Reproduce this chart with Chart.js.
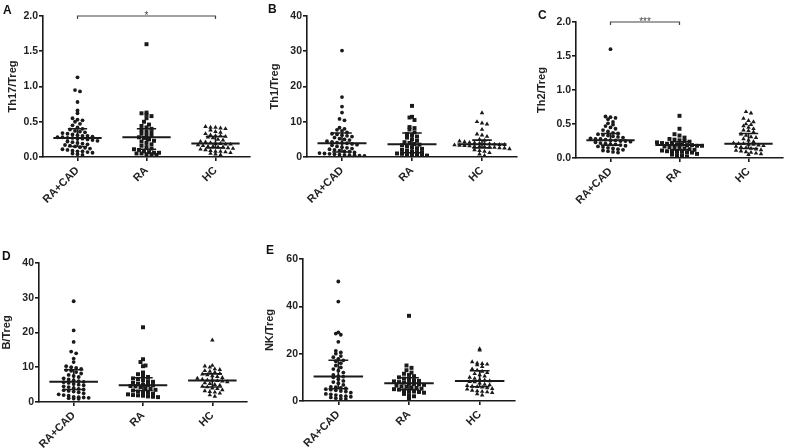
<!DOCTYPE html>
<html>
<head>
<meta charset="utf-8">
<script src="https://cdn.jsdelivr.net/npm/chart.js@4.4.0/dist/chart.umd.min.js"></script>
<style>
html, body { margin: 0; padding: 0; background: #fff; }
#fig { position: relative; width: 787px; height: 448px; overflow: hidden; font-family: "Liberation Sans", Arial, sans-serif; }
.panel { position: absolute; }
.tag { position: absolute; font-weight: bold; font-size: 12px; color: #111; line-height: 14px; }
</style>
</head>
<body>
<div id="fig">
  <div class="panel" style="left:0;top:0;width:255px;height:225px"><canvas id="chartA"></canvas></div>
  <div class="panel" style="left:255px;top:0;width:265px;height:225px"><canvas id="chartB"></canvas></div>
  <div class="panel" style="left:520px;top:0;width:267px;height:225px"><canvas id="chartC"></canvas></div>
  <div class="panel" style="left:0;top:225px;width:255px;height:223px"><canvas id="chartD"></canvas></div>
  <div class="panel" style="left:255px;top:225px;width:265px;height:223px"><canvas id="chartE"></canvas></div>
  <div class="tag" style="left:3px;top:3px">A</div>
  <div class="tag" style="left:268px;top:2px">B</div>
  <div class="tag" style="left:538px;top:8px">C</div>
  <div class="tag" style="left:2px;top:249px">D</div>
  <div class="tag" style="left:266px;top:243px">E</div>
</div>
<script>
// groups on the x axis
const groups = ['RA+CAD', 'RA', 'HC'];

// A: Th17/Treg
const th17Cad = [1.13, 0.95, 0.93, 0.78, 0.66, 0.62, 0.55, 0.53, 0.52, 0.50, 0.47, 0.45, 0.42, 0.40, 0.39, 0.37, 0.36, 0.35, 0.34, 0.33, 0.32, 0.31, 0.30, 0.30, 0.29, 0.28, 0.28, 0.27, 0.27, 0.26, 0.26, 0.25, 0.24, 0.23, 0.22, 0.21, 0.20, 0.19, 0.18, 0.17, 0.16, 0.15, 0.14, 0.13, 0.12, 0.11, 0.10, 0.09, 0.08, 0.08, 0.07, 0.06, 0.05, 0.04, 0.03];
const th17Ra = [1.60, 0.63, 0.62, 0.60, 0.58, 0.55, 0.50, 0.46, 0.44, 0.42, 0.40, 0.38, 0.36, 0.35, 0.33, 0.31, 0.30, 0.28, 0.27, 0.25, 0.23, 0.22, 0.20, 0.18, 0.16, 0.14, 0.12, 0.11, 0.10, 0.08, 0.07, 0.06, 0.06, 0.05, 0.05, 0.04, 0.04, 0.03];
const th17Hc = [0.43, 0.42, 0.42, 0.41, 0.40, 0.38, 0.36, 0.35, 0.33, 0.31, 0.30, 0.30, 0.29, 0.28, 0.27, 0.25, 0.24, 0.22, 0.21, 0.20, 0.19, 0.19, 0.18, 0.18, 0.17, 0.16, 0.15, 0.15, 0.14, 0.14, 0.13, 0.12, 0.11, 0.10, 0.09, 0.08, 0.08, 0.07, 0.06, 0.05, 0.04, 0.03];
const th17Med = [0.27, 0.28, 0.19];
const th17Q1 = [0.15, 0.11, 0.13];
const th17Q3 = [0.40, 0.40, 0.29];

// B: Th1/Treg
const th1Cad = [30.2, 17.0, 14.3, 12.6, 10.8, 10.4, 8.3, 8.0, 7.7, 7.4, 7.0, 6.6, 6.4, 6.2, 6.0, 5.8, 5.5, 5.2, 5.0, 4.8, 4.5, 4.3, 4.1, 4.0, 3.9, 3.7, 3.5, 3.3, 3.0, 2.8, 2.6, 2.4, 2.2, 2.0, 1.8, 1.6, 1.5, 1.3, 1.1, 1.0, 0.9, 0.8, 0.7, 0.6, 0.5, 0.5, 0.4, 0.3];
const th1Ra = [14.5, 11.4, 11.2, 10.5, 8.5, 8.2, 7.8, 7.0, 6.5, 6.2, 5.8, 5.5, 5.0, 4.6, 4.2, 4.0, 3.7, 3.5, 3.3, 3.0, 2.8, 2.5, 2.3, 2.0, 1.8, 1.6, 1.4, 1.2, 1.0, 0.9, 0.8, 0.7, 0.6, 0.5, 0.4];
const th1Hc = [12.5, 10.0, 9.6, 9.3, 7.8, 6.5, 6.2, 5.8, 5.0, 4.7, 4.5, 4.3, 4.1, 4.0, 3.9, 3.8, 3.7, 3.6, 3.5, 3.5, 3.4, 3.3, 3.2, 3.1, 3.0, 3.0, 2.9, 2.8, 2.7, 2.6, 2.5, 2.3, 2.0, 1.8, 1.6, 1.2, 0.8, 0.4];
const th1Med = [3.9, 3.6, 3.6];
const th1Q1 = [1.4, 1.2, 2.6];
const th1Q3 = [6.8, 6.8, 4.8];

// C: Th2/Treg
const th2Cad = [1.60, 0.61, 0.60, 0.59, 0.57, 0.53, 0.51, 0.49, 0.47, 0.45, 0.43, 0.41, 0.39, 0.37, 0.36, 0.35, 0.34, 0.33, 0.32, 0.31, 0.30, 0.29, 0.28, 0.28, 0.27, 0.26, 0.26, 0.25, 0.25, 0.24, 0.23, 0.22, 0.21, 0.20, 0.20, 0.19, 0.18, 0.17, 0.16, 0.15, 0.14, 0.13, 0.12, 0.11, 0.10, 0.09, 0.08];
const th2Ra = [0.62, 0.43, 0.35, 0.33, 0.30, 0.28, 0.27, 0.26, 0.25, 0.24, 0.23, 0.22, 0.21, 0.21, 0.20, 0.20, 0.19, 0.19, 0.18, 0.18, 0.17, 0.16, 0.15, 0.15, 0.14, 0.13, 0.12, 0.11, 0.10, 0.10, 0.09, 0.09, 0.08, 0.08, 0.06, 0.05, 0.04, 0.03, 0.02];
const th2Hc = [0.68, 0.66, 0.58, 0.55, 0.53, 0.50, 0.49, 0.47, 0.45, 0.43, 0.41, 0.40, 0.38, 0.35, 0.33, 0.31, 0.30, 0.28, 0.26, 0.24, 0.22, 0.21, 0.21, 0.20, 0.20, 0.19, 0.18, 0.17, 0.16, 0.15, 0.14, 0.13, 0.12, 0.11, 0.10, 0.09, 0.08, 0.07, 0.06, 0.05];
const th2Med = [0.26, 0.19, 0.21];
const th2Q1 = [0.19, 0.12, 0.14];
const th2Q3 = [0.36, 0.24, 0.36];

// D: B/Treg
const bCad = [29.0, 20.6, 17.3, 14.5, 14.0, 12.5, 11.5, 10.3, 10.0, 9.8, 9.5, 9.2, 9.0, 8.6, 8.2, 7.8, 7.5, 7.2, 6.8, 6.5, 6.2, 6.0, 5.8, 5.7, 5.5, 5.2, 5.0, 4.8, 4.5, 4.3, 4.0, 3.8, 3.6, 3.4, 3.2, 3.0, 2.8, 2.5, 2.2, 2.0, 1.8, 1.5, 1.4, 1.3, 1.2, 1.1, 1.0, 0.9];
const bRa = [21.5, 12.3, 11.5, 10.5, 10.3, 8.5, 8.0, 7.5, 7.2, 6.8, 6.5, 6.3, 6.0, 5.8, 5.5, 5.2, 5.0, 4.9, 4.8, 4.6, 4.5, 4.3, 4.0, 3.8, 3.5, 3.3, 3.0, 2.8, 2.6, 2.4, 2.2, 2.0, 1.9, 1.8, 1.6, 1.5, 1.4];
const bHc = [17.8, 10.5, 10.3, 10.0, 9.5, 9.3, 9.0, 8.8, 8.5, 8.2, 8.0, 7.8, 7.5, 7.3, 7.0, 6.8, 6.5, 6.3, 6.2, 6.1, 6.0, 5.8, 5.5, 5.3, 5.0, 4.8, 4.5, 4.3, 4.0, 3.8, 3.5, 3.2, 3.0, 2.8, 2.5, 2.0, 1.6];
const bMed = [5.8, 4.8, 6.2];
const bQ1 = [3.6, 3.3, 4.3];
const bQ3 = [9.3, 7.0, 8.1];

// E: NK/Treg
const nkCad = [50.5, 42.0, 29.0, 28.5, 28.0, 25.0, 21.2, 20.5, 20.0, 19.0, 18.5, 17.8, 17.2, 16.8, 16.0, 15.0, 14.2, 13.5, 12.8, 12.0, 11.0, 10.5, 10.3, 10.0, 9.2, 8.5, 8.0, 7.5, 6.8, 6.0, 5.8, 5.5, 5.3, 5.0, 4.8, 4.5, 4.2, 4.0, 3.5, 3.0, 2.8, 2.5, 2.2, 2.0, 1.8, 1.5, 1.2, 1.0, 0.8];
const nkRa = [36.0, 15.0, 14.0, 13.0, 12.0, 11.5, 11.0, 10.5, 10.0, 9.5, 9.0, 8.8, 8.5, 8.3, 8.0, 7.8, 7.5, 7.2, 7.0, 6.8, 6.5, 6.2, 6.0, 5.8, 5.5, 5.2, 5.0, 4.8, 4.5, 4.2, 4.0, 3.8, 3.5, 3.0, 2.5, 2.0, 1.0];
const nkHc = [22.0, 21.5, 16.5, 16.0, 15.8, 15.5, 15.2, 14.5, 13.5, 13.0, 12.5, 12.0, 11.5, 11.0, 10.5, 10.0, 9.5, 9.0, 8.8, 8.5, 8.2, 8.0, 7.5, 7.0, 6.8, 6.5, 6.2, 6.0, 5.8, 5.5, 5.2, 5.0, 4.5, 4.2, 4.0, 3.8, 3.5, 3.0, 2.5];
const nkMed = [10.3, 7.5, 8.5];
const nkQ1 = [5.2, 4.8, 6.0];
const nkQ3 = [17.2, 9.8, 12.8];

const ink = '#1a1a1a';
const shapes = ['circle', 'rect', 'triangle'];
const radii = [1.9, 2.8, 2.6];

Chart.defaults.font.family = '"Liberation Sans", Arial, sans-serif';
Chart.defaults.font.weight = 'bold';
Chart.defaults.color = '#222';

// median + interquartile range, and significance bracket
const summaryPlugin = {
  id: 'summary',
  afterDatasetsDraw(chart, args, opts) {
    const {ctx} = chart;
    const xs = chart.scales.x, ys = chart.scales.y;
    const cw = xs.getPixelForValue(2) - xs.getPixelForValue(1);
    ctx.save();
    ctx.strokeStyle = ink;
    for (let i = 0; i < 3; i++) {
      const cx = xs.getPixelForValue(i + 1);
      const pm = ys.getPixelForValue(opts.med[i]);
      const p1 = ys.getPixelForValue(opts.q1[i]);
      const p3 = ys.getPixelForValue(opts.q3[i]);
      ctx.lineWidth = 2;
      ctx.beginPath();
      ctx.moveTo(cx - cw * 0.35, pm); ctx.lineTo(cx + cw * 0.35, pm);
      ctx.stroke();
      ctx.lineWidth = 1.6;
      ctx.beginPath();
      ctx.moveTo(cx, p1); ctx.lineTo(cx, p3);
      ctx.moveTo(cx - cw * 0.14, p1); ctx.lineTo(cx + cw * 0.14, p1);
      ctx.moveTo(cx - cw * 0.14, p3); ctx.lineTo(cx + cw * 0.14, p3);
      ctx.stroke();
    }
    if (opts.sig) {
      const s = opts.sig;
      const xa = xs.getPixelForValue(s.from + 1), xb = xs.getPixelForValue(s.to + 1);
      const py = ys.getPixelForValue(s.y);
      ctx.lineWidth = 1.2;
      ctx.strokeStyle = '#444';
      ctx.beginPath();
      ctx.moveTo(xa, py + 3); ctx.lineTo(xa, py); ctx.lineTo(xb, py); ctx.lineTo(xb, py + 3);
      ctx.stroke();
      ctx.fillStyle = '#444';
      ctx.font = '10px "Liberation Sans", Arial, sans-serif';
      ctx.textAlign = 'center';
      ctx.textBaseline = 'bottom';
      ctx.fillText(s.label, (xa + xb) / 2, py + 5);
    }
    ctx.restore();
  }
};

// spread points of the same height side by side (dot plot layout)
function spread(chart) {
  const xs = chart.scales.x, ys = chart.scales.y;
  const unit = xs.getPixelForValue(2) - xs.getPixelForValue(1);
  const rowH = 4, gap = 5;
  chart.data.datasets.forEach((ds, i) => {
    const rows = {};
    ds.data.forEach(p => {
      const key = Math.floor((ys.bottom - ys.getPixelForValue(p.y)) / rowH);
      (rows[key] = rows[key] || []).push(p);
    });
    Object.values(rows).forEach(row => {
      const n = row.length;
      row.forEach((p, k) => {
        const slot = k - (n - 1) / 2;
        p.x = i + 1 + slot * gap / unit;
      });
    });
  });
  chart.update('none');
}

function makePanel(id, p) {
  const datasets = p.series.map((vals, i) => ({
    label: groups[i],
    data: vals.map(v => ({x: i + 1, y: v})),
    pointStyle: shapes[i],
    pointRadius: radii[i],
    pointHoverRadius: radii[i],
    backgroundColor: ink,
    borderColor: ink,
    borderWidth: 0
  }));
  const chart = new Chart(document.getElementById(id), {
    type: 'scatter',
    data: {datasets},
    options: {
      responsive: true,
      maintainAspectRatio: false,
      animation: false,
      layout: {padding: {top: p.top, right: p.right, left: 0, bottom: 0}},
      plugins: {
        legend: {display: false},
        tooltip: {enabled: false},
        summary: {med: p.med, q1: p.q1, q3: p.q3, sig: p.sig}
      },
      scales: {
        x: {
          type: 'linear',
          min: 0.5,
          max: 3.5,
          afterBuildTicks: s => { s.ticks = [1, 2, 3].map(v => ({value: v})); },
          afterFit: s => { s.height = p.xh; },
          border: {color: ink, width: 1.6},
          grid: {drawOnChartArea: false, drawTicks: true, tickLength: 4, color: ink, lineWidth: 1.6},
          ticks: {
            minRotation: 45, maxRotation: 45, padding: 3,
            font: {size: 11, weight: 'bold'}, color: '#222',
            callback: v => groups[v - 1]
          }
        },
        y: {
          min: 0,
          max: p.max,
          afterFit: s => { s.width = p.yw; },
          border: {color: ink, width: 1.6},
          grid: {drawOnChartArea: false, drawTicks: true, tickLength: 4, color: ink, lineWidth: 1.6},
          ticks: {
            stepSize: p.step, padding: 1,
            font: {size: 10.5, weight: 'bold'}, color: '#222',
            callback: v => p.dec ? v.toFixed(1) : String(v)
          },
          title: {
            display: true, text: p.title,
            font: {size: 11, weight: 'bold'}, color: '#222',
            padding: {top: p.tp, bottom: 0}
          }
        }
      }
    },
    plugins: [summaryPlugin]
  });
  spread(chart);
}

makePanel('chartA', {series: [th17Cad, th17Ra, th17Hc], med: th17Med, q1: th17Q1, q3: th17Q3,
  max: 2, step: 0.5, dec: true, title: 'Th17/Treg', top: 16, right: 5, yw: 43, xh: 68, tp: 6,
  sig: {from: 0, to: 2, y: 2.0, label: '*'}});
makePanel('chartB', {series: [th1Cad, th1Ra, th1Hc], med: th1Med, q1: th1Q1, q3: th1Q3,
  max: 40, step: 10, dec: false, title: 'Th1/Treg', top: 16, right: 3, yw: 52, xh: 68, tp: 13});
makePanel('chartC', {series: [th2Cad, th2Ra, th2Hc], med: th2Med, q1: th2Q1, q3: th2Q3,
  max: 2, step: 0.5, dec: true, title: 'Th2/Treg', top: 22, right: 4, yw: 56, xh: 67, tp: 15,
  sig: {from: 0, to: 1, y: 2.0, label: '***'}});
makePanel('chartD', {series: [bCad, bRa, bHc], med: bMed, q1: bQ1, q3: bQ3,
  max: 40, step: 10, dec: false, title: 'B/Treg', top: 38, right: 8, yw: 39, xh: 46, tp: 0});
makePanel('chartE', {series: [nkCad, nkRa, nkHc], med: nkMed, q1: nkQ1, q3: nkQ3,
  max: 60, step: 20, dec: false, title: 'NK/Treg', top: 34, right: 5, yw: 48, xh: 47, tp: 8});
</script>
</body>
</html>
